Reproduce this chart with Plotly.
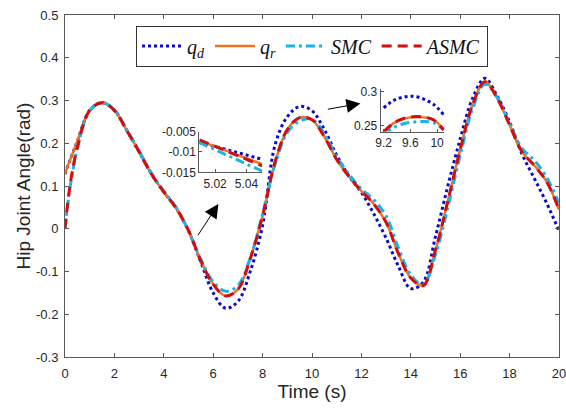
import plotly.graph_objects as go

# ---------------- data ----------------
time_s = [0, 0.1, 0.2, 0.3, 0.5, 1.0, 1.5, 2.0, 2.5, 3.0, 3.5, 4.0, 4.5, 5.0,
          5.5, 6.0, 6.5, 7.0, 7.5, 8.0, 8.5, 9.0, 9.5, 10.0, 10.5, 11.0, 11.5,
          12.0, 12.5, 13.0, 13.5, 14.0, 14.5, 15.0, 15.5, 16.0, 16.5, 17.0,
          17.5, 18.0, 18.5, 19.0, 19.5, 20.0]

q_d = [0.128, 0.145, 0.16, 0.175, 0.205, 0.277, 0.295, 0.277, 0.23, 0.18, 0.128,
       0.086, 0.048, -0.005, -0.078, -0.15, -0.186, -0.17, -0.1, 0.008, 0.195,
       0.262, 0.286, 0.276, 0.232, 0.172, 0.123, 0.085, 0.035, -0.022, -0.088,
       -0.14, -0.125, -0.018, 0.1, 0.21, 0.305, 0.352, 0.31, 0.25, 0.175, 0.118,
       0.06, -0.005]

q_r = [0.128, 0.145, 0.16, 0.175, 0.205, 0.277, 0.295, 0.277, 0.23, 0.18, 0.128,
       0.086, 0.048, -0.004, -0.075, -0.13, -0.157, -0.142, -0.07, 0.03, 0.155,
       0.232, 0.26, 0.255, 0.215, 0.162, 0.122, 0.088, 0.058, 0.015, -0.058,
       -0.115, -0.133, -0.05, 0.065, 0.185, 0.29, 0.344, 0.305, 0.243, 0.18,
       0.148, 0.11, 0.045]

smc = [0.0, 0.05, 0.095, 0.13, 0.188, 0.276, 0.295, 0.278, 0.232, 0.182, 0.13,
       0.088, 0.05, -0.005, -0.072, -0.124, -0.146, -0.133, -0.068, 0.035, 0.15,
       0.225, 0.252, 0.256, 0.222, 0.168, 0.127, 0.093, 0.068, 0.03, -0.045,
       -0.108, -0.131, -0.06, 0.05, 0.172, 0.28, 0.338, 0.307, 0.246, 0.188,
       0.16, 0.12, 0.06]

asmc = [0.0, 0.055, 0.1, 0.135, 0.19, 0.277, 0.295, 0.277, 0.23, 0.18, 0.128,
        0.086, 0.048, -0.004, -0.075, -0.13, -0.157, -0.142, -0.07, 0.03, 0.155,
        0.232, 0.26, 0.255, 0.215, 0.162, 0.122, 0.088, 0.058, 0.015, -0.058,
        -0.115, -0.133, -0.05, 0.065, 0.185, 0.29, 0.344, 0.305, 0.243, 0.18,
        0.148, 0.11, 0.045]

# inset 1 (around t = 5.03 s)
inset1_t = [5.01, 5.03, 5.05]
inset1_qd = [-0.0076, -0.0097, -0.0118]
inset1_qr = [-0.0072, -0.0101, -0.0130]
inset1_smc = [-0.0077, -0.0112, -0.0147]
inset1_asmc = [-0.0070, -0.0102, -0.0134]

# inset 2 (around t = 9.6 s)
inset2_t = [9.2, 9.35, 9.5, 9.65, 9.8, 9.95, 10.1]
inset2_qd = [0.276, 0.287, 0.292, 0.293, 0.289, 0.281, 0.266]
inset2_qr = [0.241, 0.2535, 0.26, 0.2625, 0.262, 0.2585, 0.244]
inset2_smc = [0.236, 0.247, 0.2525, 0.2552, 0.256, 0.2538, 0.2437]
inset2_asmc = [0.2405, 0.2535, 0.2605, 0.263, 0.2625, 0.258, 0.2435]

x_ticks = [0, 2, 4, 6, 8, 10, 12, 14, 16, 18, 20]
y_ticks = [-0.3, -0.2, -0.1, 0, 0.1, 0.2, 0.3, 0.4, 0.5]
y_ticktext = ["-0.3", "-0.2", "-0.1", "0", "0.1", "0.2", "0.3", "0.4", "0.5"]
in1_xticks = [5.02, 5.04]
in1_yticks = [-0.015, -0.01, -0.005]
in1_yticktext = ["-0.015", "-0.01", "-0.005"]
in2_xticks = [9.2, 9.6, 10]
in2_xticktext = ["9.2", "9.6", "10"]
in2_yticks = [0.25, 0.3]

names = ["<i>q</i><sub><i>d</i></sub>", "<i>q</i><sub><i>r</i></sub>",
         "<i>SMC</i>", "<i>ASMC</i>"]

# ---------------- styles ----------------
C_BLUE = "#0A0AC8"
C_ORANGE = "#EC7521"
C_CYAN = "#1AB4E8"
C_RED = "#D20F0F"
styles = [
    dict(color=C_BLUE, width=3, dash="dot"),
    dict(color=C_ORANGE, width=2.5, dash="solid"),
    dict(color=C_CYAN, width=3, dash="9px,4px,3px,4px"),
    dict(color=C_RED, width=3, dash="10px,6px"),
]

fig = go.Figure()

main_series = [q_d, q_r, smc, asmc]
for name, ys, st in zip(names, main_series, styles):
    fig.add_trace(go.Scatter(x=time_s, y=ys, mode="lines", name=name,
                             line=dict(shape="spline", smoothing=1.0, **st),
                             xaxis="x", yaxis="y"))

for ys, st in zip([inset1_qd, inset1_qr, inset1_smc, inset1_asmc], styles):
    fig.add_trace(go.Scatter(x=inset1_t, y=ys, mode="lines", showlegend=False,
                             line=dict(**st), xaxis="x2", yaxis="y2"))

for ys, st in zip([inset2_qd, inset2_qr, inset2_smc, inset2_asmc], styles):
    fig.add_trace(go.Scatter(x=inset2_t, y=ys, mode="lines", showlegend=False,
                             line=dict(shape="spline", **st), xaxis="x3", yaxis="y3"))

AX_COL = "#595959"
TICK_FONT = dict(family="Liberation Sans, Arial, sans-serif", size=13, color="#262626")
IN_FONT = dict(family="Liberation Sans, Arial, sans-serif", size=12, color="#262626")
TITLE_FONT = dict(family="Liberation Sans, Arial, sans-serif", size=19, color="#262626")

fig.update_layout(
    width=566, height=410,
    margin=dict(l=65, r=7, t=15, b=53, autoexpand=False),
    paper_bgcolor="white", plot_bgcolor="white",
    font=dict(family="Liberation Sans, Arial, sans-serif", color="#262626"),
    xaxis=dict(range=[0, 20], tickvals=x_ticks, ticks="inside", ticklen=4,
               showline=True, linecolor=AX_COL, linewidth=1, mirror="ticks",
               tickcolor=AX_COL, showgrid=False, zeroline=False, tickfont=TICK_FONT,
               ticklabelstandoff=4, ticklabeloverflow="allow", automargin=False,
               title=dict(text="Time (s)", font=TITLE_FONT, standoff=5),
               domain=[0, 1]),
    yaxis=dict(range=[-0.3, 0.5], tickvals=y_ticks, ticktext=y_ticktext,
               ticks="inside", ticklen=4, showline=True, linecolor=AX_COL,
               linewidth=1, mirror="ticks", tickcolor=AX_COL, showgrid=False,
               zeroline=False, tickfont=TICK_FONT, ticklabelstandoff=3,
               ticklabeloverflow="allow", automargin=False,
               title=dict(text="Hip Joint Angle(rad)", font=TITLE_FONT, standoff=0),
               domain=[0, 1]),
    xaxis2=dict(range=[5.01, 5.05], domain=[0.272, 0.399], anchor="y2",
                tickvals=in1_xticks, ticks="inside", ticklen=3, showline=True,
                linecolor=AX_COL, tickcolor=AX_COL, showgrid=False, zeroline=False,
                tickfont=IN_FONT, automargin=False, ticklabeloverflow="allow"),
    yaxis2=dict(range=[-0.015, -0.005], domain=[0.540, 0.659], anchor="x2",
                tickvals=in1_yticks, ticktext=in1_yticktext, ticks="inside", ticklen=3,
                showline=True, linecolor=AX_COL, tickcolor=AX_COL, showgrid=False,
                zeroline=False, tickfont=IN_FONT, automargin=False,
                ticklabeloverflow="allow"),
    xaxis3=dict(range=[9.155, 10.11], domain=[0.639, 0.768], anchor="y3",
                tickvals=in2_xticks, ticktext=in2_xticktext, ticks="inside", ticklen=3,
                showline=True, linecolor=AX_COL, tickcolor=AX_COL, showgrid=False,
                zeroline=False, tickfont=IN_FONT, automargin=False,
                ticklabeloverflow="allow"),
    yaxis3=dict(range=[0.241, 0.3035], domain=[0.659, 0.783], anchor="x3",
                tickvals=in2_yticks, ticks="inside", ticklen=3, showline=True,
                linecolor=AX_COL, tickcolor=AX_COL, showgrid=False, zeroline=False,
                tickfont=IN_FONT, automargin=False, ticklabeloverflow="allow"),
    legend=dict(orientation="h", x=0.5, xanchor="center", y=0.969, yanchor="top",
                bgcolor="white", bordercolor="#333333", borderwidth=1,
                font=dict(family="Liberation Serif, DejaVu Serif, serif", size=20,
                          color="#111111"),
                itemwidth=40, tracegroupgap=0),
    showlegend=True,
)

# arrows pointing to the zoomed insets
fig.add_annotation(x=6.21, y=0.058, ax=5.34, ay=-0.019, xref="x", yref="y",
                   axref="x", ayref="y", text="", showarrow=True, arrowhead=2,
                   arrowsize=2.8, arrowwidth=1, arrowcolor="black", standoff=0)
fig.add_annotation(x=11.96, y=0.293, ax=10.58, ay=0.279, xref="x", yref="y",
                   axref="x", ayref="y", text="", showarrow=True, arrowhead=2,
                   arrowsize=2.8, arrowwidth=1, arrowcolor="black", standoff=0)

fig.write_html("out.html",
               config={"displayModeBar": False},
               post_script="document.body.style.margin='0';"
                           "document.body.style.overflow='hidden';")
